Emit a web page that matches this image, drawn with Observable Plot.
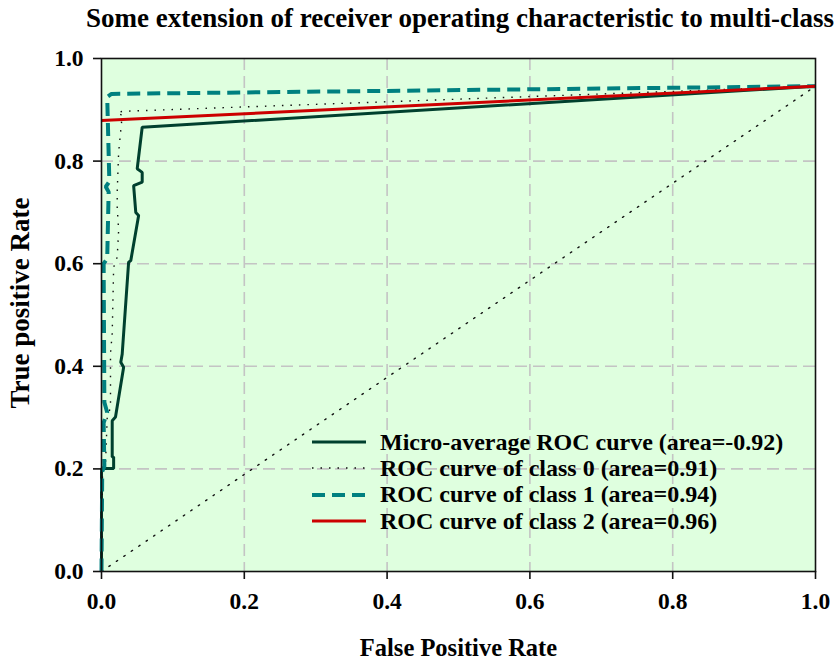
<!DOCTYPE html>
<html>
<head>
<meta charset="utf-8">
<script src="https://cdn.jsdelivr.net/npm/d3@7"></script>
<script src="https://cdn.jsdelivr.net/npm/@observablehq/plot@0.6"></script>
<style>
  html, body { margin: 0; padding: 0; background: #ffffff; overflow: hidden; }
  #wrap { position: relative; width: 837px; height: 662px; font-family: "Liberation Serif", "Times New Roman", serif; font-weight: bold; }
  #title { position: absolute; left: 0; top: 0; width: 920px; height: 36px; line-height: 36px; text-align: center; font-size: 27px; color: #000; white-space: nowrap; }
  #chart { position: absolute; left: 0; top: 36px; }
  #legend { position: absolute; left: 312px; top: 429px; font-size: 24px; color: #000; }
  .row { display: flex; align-items: center; height: 26.3px; white-space: nowrap; }
  .row svg { flex: none; margin-right: 14px; }
</style>
</head>
<body>
<div id="wrap">
  <div id="title">Some extension of receiver operating characteristic to multi-class</div>
  <div id="chart"></div>
  <div id="legend"></div>
</div>
<script>
// ---- data ----
const microX = [0, 0, 0.017, 0.017, 0.015, 0.015, 0.0196, 0.031, 0.027, 0.029, 0.038, 0.041, 0.052, 0.048, 0.045, 0.057, 0.057, 0.050, 0.057, 1.0];
const microY = [0, 0.201, 0.201, 0.223, 0.223, 0.294, 0.301, 0.398, 0.408, 0.424, 0.603, 0.606, 0.694, 0.700, 0.752, 0.759, 0.778, 0.785, 0.866, 0.946];

const class0X = [0, 0.0014, 0.0056, 0.008, 0.0126, 0.0126, 0.015, 0.017, 0.022, 0.024, 0.022, 0.022, 0.024, 0.029, 0.022, 0.03, 1.0];
const class0Y = [0, 0.197, 0.21, 0.30, 0.32, 0.425, 0.464, 0.593, 0.613, 0.665, 0.71, 0.74, 0.817, 0.889, 0.895, 0.897, 0.946];

const class1X = [0, 0.001, 0.004, 0.003, 0.008, 0.004, 0.003, 0.008, 0.010, 0.006, 0.011, 0.008, 0.014, 1.0];
const class1Y = [0, 0.195, 0.205, 0.29, 0.31, 0.33, 0.60, 0.61, 0.74, 0.75, 0.76, 0.925, 0.931, 0.946];

const class2X = [0, 1.0];
const class2Y = [0.879, 0.946];

const chanceX = [0, 1.0];
const chanceY = [0, 0.946];

const tickValues = [0, 0.2, 0.4, 0.6, 0.8, 1.0];
const gridValues = [0.2, 0.4, 0.6, 0.8];

const seriesNames = ["micro", "class0", "class1", "class2"];
const legendLabels = [
  "Micro-average ROC curve (area=-0.92)",
  "ROC curve of class 0 (area=0.91)",
  "ROC curve of class 1 (area=0.94)",
  "ROC curve of class 2 (area=0.96)"
];
const xLabel = "False Positive Rate";
const yLabel = "True positive Rate";

// ---- styles ----
const styles = {
  micro:  {stroke: "#00402e", strokeWidth: 3, strokeDasharray: null},
  class0: {stroke: "#111111", strokeWidth: 1.4, strokeDasharray: "1.5,7"},
  class1: {stroke: "#008080", strokeWidth: 4, strokeDasharray: "13,7"},
  class2: {stroke: "#cc0000", strokeWidth: 3, strokeDasharray: null}
};

const toPts = (xs, ys) => xs.map((x, i) => ({x, y: ys[i]}));
const micro = toPts(microX, microY);
const c0 = toPts(class0X, class0Y);
const c1 = toPts(class1X, class1Y);
const c2 = toPts(class2X, class2Y);
const chance = toPts(chanceX, chanceY);

const lineOpts = (s) => {
  const o = {x: "x", y: "y", stroke: s.stroke, strokeWidth: s.strokeWidth, curve: "linear", strokeLinejoin: "miter", strokeLinecap: "butt"};
  if (s.strokeDasharray) o.strokeDasharray = s.strokeDasharray;
  return o;
};

const chart = Plot.plot({
  width: 837,
  height: 626,
  marginLeft: 101,
  marginRight: 22,
  marginTop: 22,
  marginBottom: 91,
  style: {fontFamily: "Liberation Serif, Times New Roman, serif", fontWeight: "bold", fontSize: "23.5px", color: "#000", background: "transparent", overflow: "visible"},
  x: {domain: [0, 1]},
  y: {domain: [0, 1]},
  marks: [
    Plot.frame({fill: "#dfffdf", stroke: null}),
    Plot.gridX(gridValues, {stroke: "#c4c4c4", strokeOpacity: 1, strokeWidth: 1.6, strokeDasharray: "12,6"}),
    Plot.gridY(gridValues, {stroke: "#c4c4c4", strokeOpacity: 1, strokeWidth: 1.6, strokeDasharray: "12,6"}),
    Plot.line(chance, {x: "x", y: "y", stroke: "#111", strokeWidth: 1.4, strokeDasharray: "1.5,7.5"}),
    Plot.line(micro, lineOpts(styles.micro)),
    Plot.line(c0, lineOpts(styles.class0)),
    Plot.line(c1, lineOpts(styles.class1)),
    Plot.line(c2, lineOpts(styles.class2)),
    Plot.frame({stroke: "#111", strokeWidth: 1.6}),
    Plot.axisX({ticks: tickValues, tickFormat: d3.format(".1f"), tickSize: 8, tickPadding: 13, label: null, stroke: "#111", strokeWidth: 1.6}),
    Plot.axisY({ticks: tickValues, tickFormat: d3.format(".1f"), tickSize: 8, tickPadding: 10, label: null, stroke: "#111", strokeWidth: 1.6}),
    Plot.text([xLabel], {frameAnchor: "bottom", dy: 77, lineAnchor: "middle", fontSize: 24.5, fontWeight: "bold", text: d => d}),
    Plot.text([yLabel], {frameAnchor: "left", dx: -81, dy: -12, rotate: -90, lineAnchor: "middle", textAnchor: "middle", fontSize: 27, fontWeight: "bold", text: d => d})
  ]
});
document.getElementById("chart").appendChild(chart);

// ---- legend ----
const legend = document.getElementById("legend");
seriesNames.forEach((k, i) => {
  const s = styles[k];
  const row = document.createElement("div");
  row.className = "row";
  const ns = "http://www.w3.org/2000/svg";
  const sv = document.createElementNS(ns, "svg");
  sv.setAttribute("width", 54);
  sv.setAttribute("height", 10);
  const ln = document.createElementNS(ns, "line");
  ln.setAttribute("x1", 0); ln.setAttribute("x2", 54);
  ln.setAttribute("y1", 5); ln.setAttribute("y2", 5);
  ln.setAttribute("stroke", s.stroke);
  ln.setAttribute("stroke-width", s.strokeWidth);
  if (s.strokeDasharray) ln.setAttribute("stroke-dasharray", s.strokeDasharray);
  sv.appendChild(ln);
  row.appendChild(sv);
  const t = document.createElement("span");
  t.textContent = legendLabels[i];
  row.appendChild(t);
  legend.appendChild(row);
});
</script>
</body>
</html>
